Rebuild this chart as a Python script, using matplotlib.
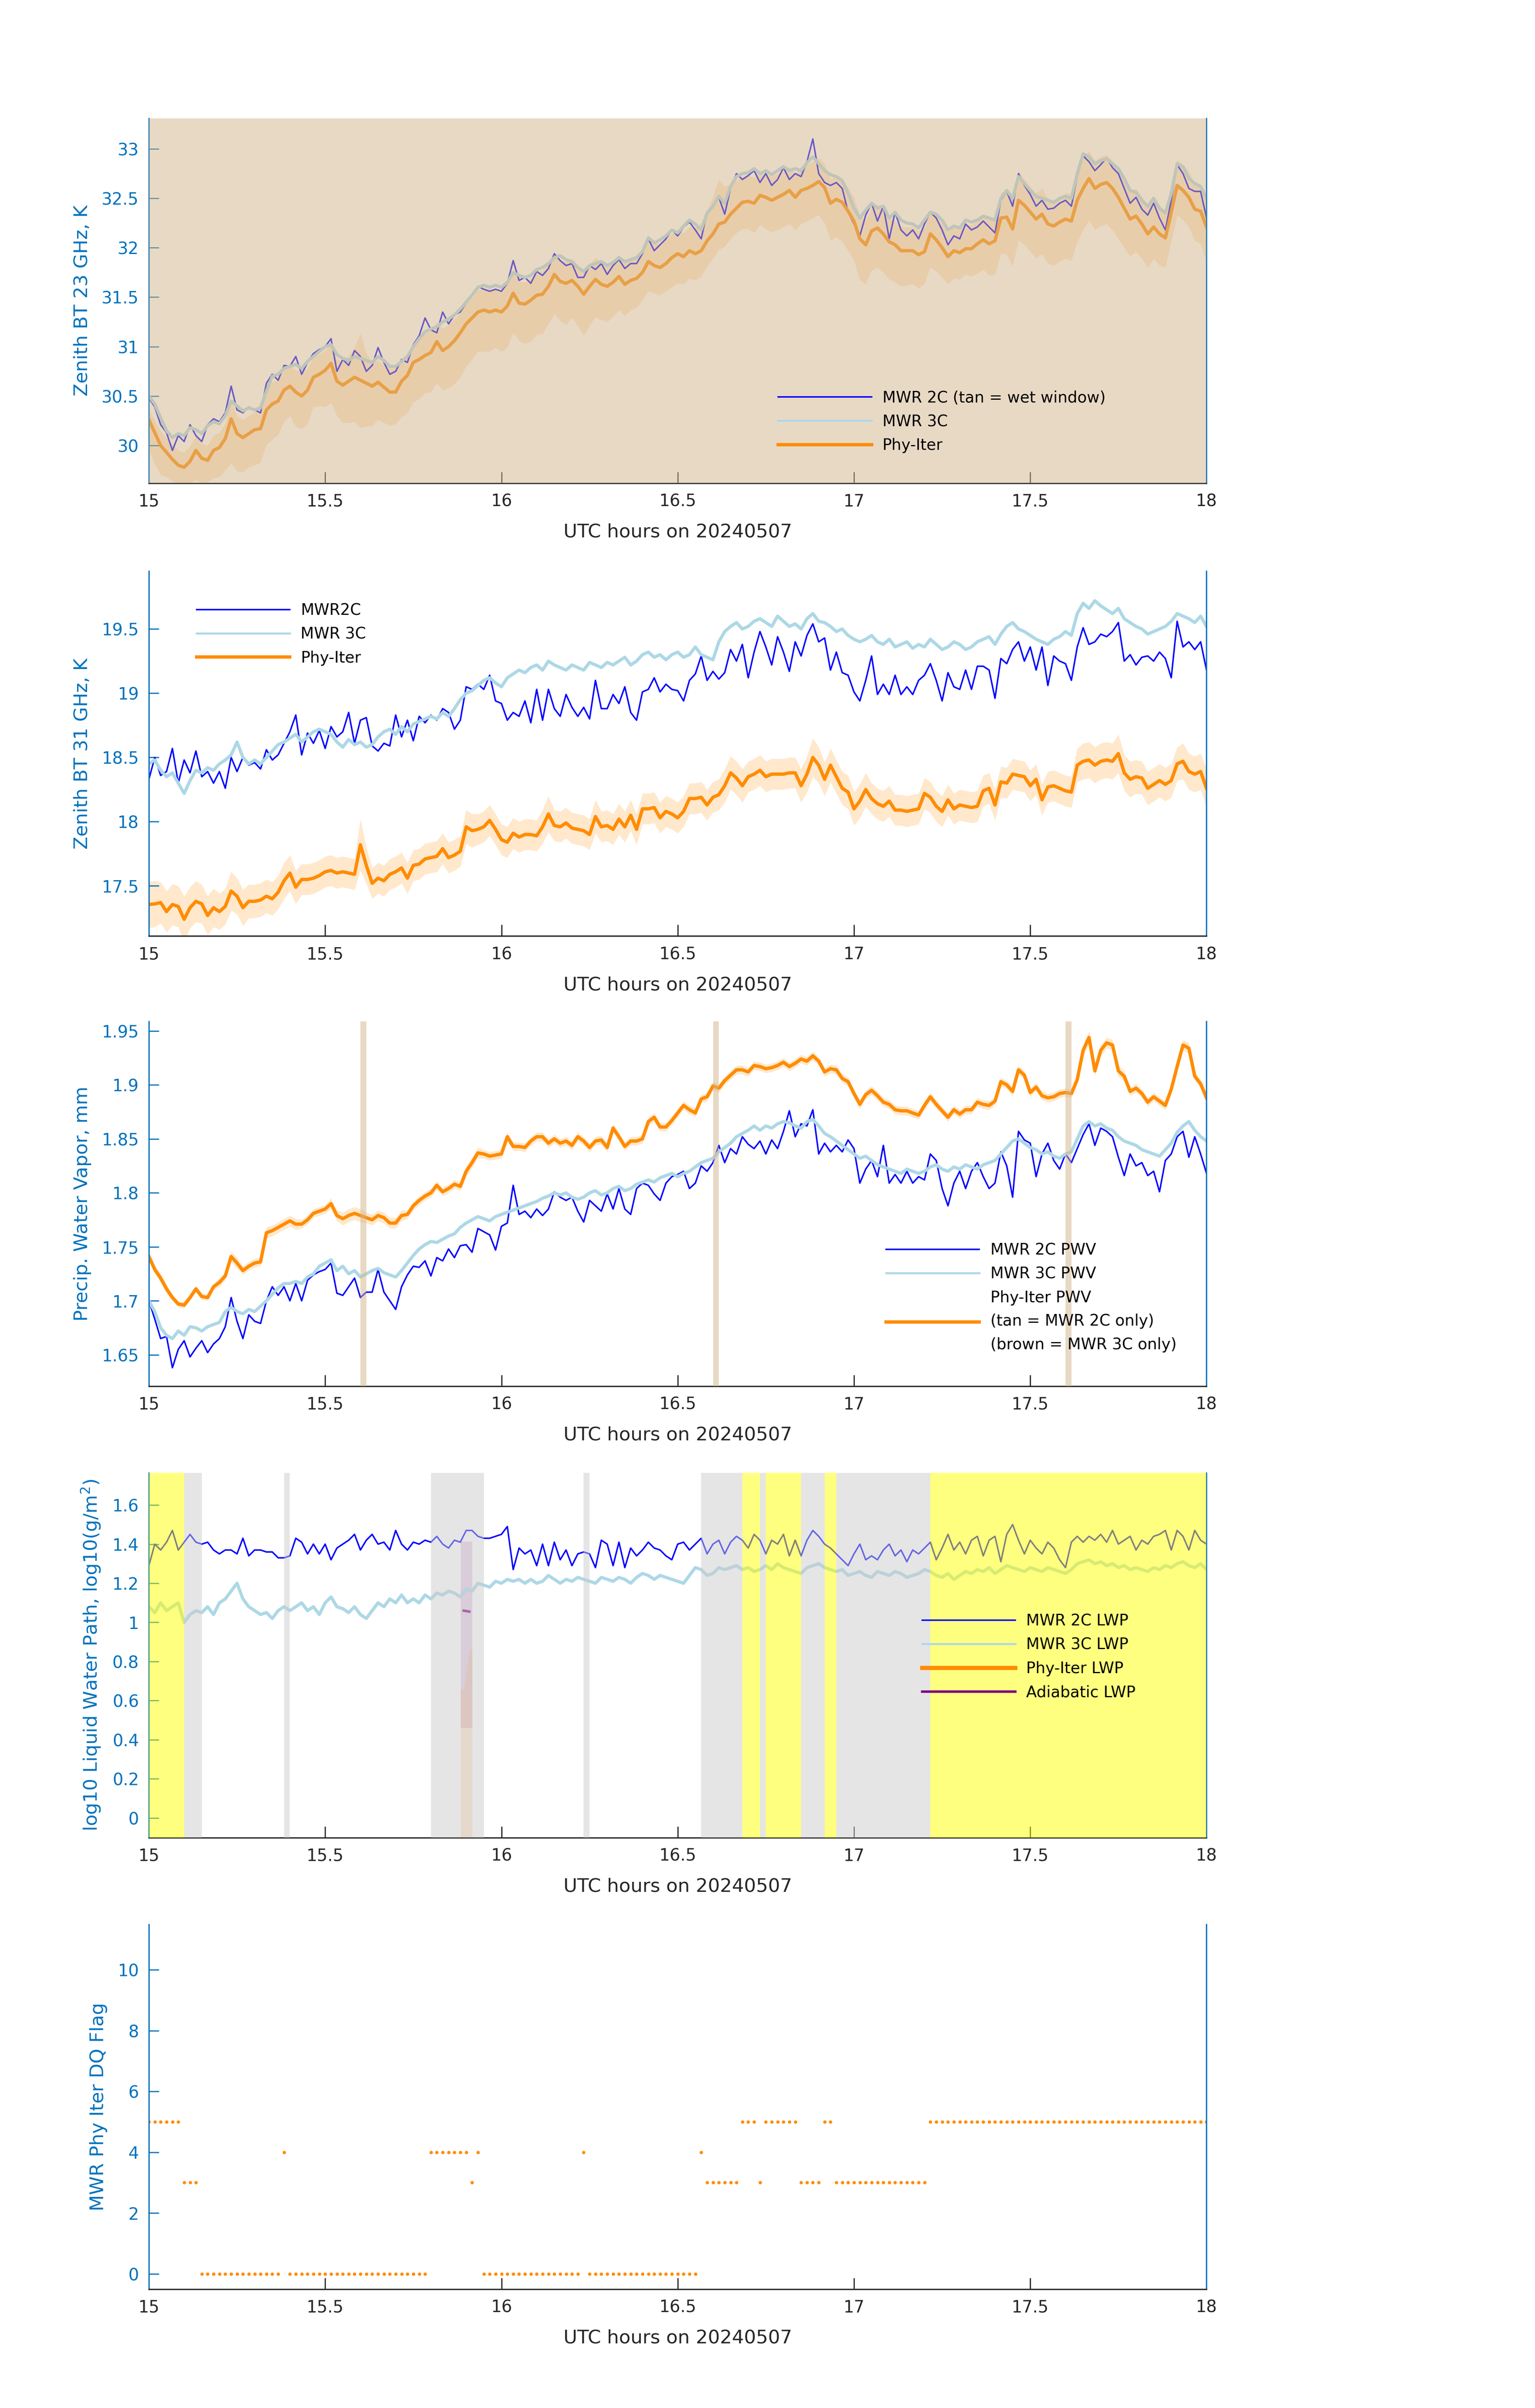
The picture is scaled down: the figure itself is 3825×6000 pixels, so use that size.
import numpy as np
import matplotlib
matplotlib.use("Agg")
import matplotlib.pyplot as plt
from matplotlib.lines import Line2D
from matplotlib.ticker import FuncFormatter

# ---------------- data (1-minute samples starting 15:00 UTC) ----------------
start_hour = 15.0
step_hour = 1.0 / 60.0

# Panel 1: 23 GHz zenith brightness temperature, K
bt23_mwr2c = [
    30.48, 30.39, 30.21, 30.13, 29.95, 30.10, 30.04, 30.21, 30.10, 30.04,
    30.21, 30.27, 30.24, 30.33, 30.60, 30.36, 30.33, 30.39, 30.36, 30.33,
    30.63, 30.72, 30.66, 30.81, 30.80, 30.90, 30.72, 30.84, 30.93, 30.97,
    31.00, 31.08, 30.75, 30.87, 30.81, 30.96, 30.90, 30.75, 30.81, 30.99,
    30.84, 30.72, 30.75, 30.87, 30.84, 31.02, 31.11, 31.29, 31.17, 31.14,
    31.35, 31.23, 31.32, 31.35, 31.44, 31.53, 31.61, 31.58, 31.56, 31.58,
    31.56, 31.64, 31.87, 31.67, 31.70, 31.64, 31.76, 31.72, 31.79, 31.94,
    31.87, 31.82, 31.84, 31.70, 31.70, 31.82, 31.78, 31.84, 31.73, 31.82,
    31.88, 31.79, 31.84, 31.84, 31.94, 32.09, 31.97, 32.03, 32.09, 32.18,
    32.12, 32.21, 32.26, 32.18, 32.09, 32.36, 32.42, 32.51, 32.34, 32.60,
    32.75, 32.69, 32.73, 32.78, 32.66, 32.75, 32.63, 32.69, 32.81, 32.69,
    32.75, 32.72, 32.87, 33.10, 32.75, 32.66, 32.63, 32.66, 32.60, 32.36,
    32.24, 32.12, 32.33, 32.45, 32.27, 32.42, 32.09, 32.36, 32.18, 32.12,
    32.18, 32.09, 32.24, 32.36, 32.30, 32.18, 32.03, 32.12, 32.09, 32.24,
    32.18, 32.21, 32.27, 32.21, 32.15, 32.48, 32.57, 32.42, 32.75, 32.63,
    32.54, 32.42, 32.48, 32.39, 32.40, 32.45, 32.48, 32.42, 32.72, 32.93,
    32.87, 32.78, 32.84, 32.91, 32.81, 32.75, 32.60, 32.45, 32.51, 32.39,
    32.33, 32.45, 32.30, 32.18, 32.48, 32.84, 32.75, 32.60, 32.57, 32.57,
    32.30]
bt23_mwr3c = [
    30.50, 30.42, 30.28, 30.15, 30.08, 30.12, 30.10, 30.18, 30.16, 30.12,
    30.20, 30.24, 30.22, 30.30, 30.45, 30.40, 30.35, 30.38, 30.36, 30.38,
    30.55, 30.70, 30.72, 30.78, 30.80, 30.82, 30.78, 30.85, 30.90, 30.95,
    31.00, 31.02, 30.92, 30.88, 30.86, 30.90, 30.88, 30.86, 30.84, 30.90,
    30.86, 30.80, 30.80, 30.85, 30.90, 31.00, 31.08, 31.15, 31.18, 31.20,
    31.25, 31.28, 31.32, 31.38, 31.45, 31.52, 31.60, 31.62, 31.60, 31.62,
    31.60, 31.65, 31.75, 31.72, 31.70, 31.72, 31.78, 31.80, 31.84, 31.90,
    31.92, 31.88, 31.86, 31.80, 31.76, 31.82, 31.84, 31.86, 31.82, 31.85,
    31.90, 31.86, 31.88, 31.90, 31.96, 32.10, 32.05, 32.08, 32.12, 32.18,
    32.15, 32.22, 32.28, 32.24, 32.18, 32.35, 32.42, 32.52, 32.45, 32.62,
    32.72, 32.75, 32.76, 32.80, 32.75, 32.78, 32.74, 32.78, 32.82, 32.78,
    32.80, 32.78, 32.86, 32.92, 32.85, 32.78, 32.74, 32.72, 32.68, 32.55,
    32.40, 32.30, 32.38, 32.45, 32.40, 32.42, 32.30, 32.36, 32.28, 32.25,
    32.24, 32.20, 32.28, 32.36, 32.34, 32.28, 32.18, 32.22, 32.20, 32.28,
    32.26, 32.28, 32.32, 32.30, 32.28, 32.50, 32.58, 32.50, 32.72, 32.65,
    32.58, 32.52, 32.50, 32.48, 32.46, 32.50, 32.52, 32.50, 32.75, 32.95,
    32.92, 32.85, 32.88, 32.90, 32.85, 32.80, 32.70, 32.58, 32.56, 32.48,
    32.42, 32.50, 32.40, 32.35, 32.55, 32.85, 32.82, 32.70, 32.65, 32.62,
    32.50]
bt23_phyiter = [
    30.26, 30.13, 30.00, 29.93, 29.86, 29.80, 29.78, 29.84, 29.95, 29.87,
    29.85, 29.95, 29.98, 30.07, 30.27, 30.12, 30.08, 30.12, 30.16, 30.17,
    30.36, 30.42, 30.45, 30.56, 30.60, 30.54, 30.50, 30.56, 30.69, 30.72,
    30.76, 30.83, 30.65, 30.61, 30.65, 30.69, 30.66, 30.63, 30.60, 30.64,
    30.59, 30.54, 30.54, 30.65, 30.71, 30.84, 30.87, 30.91, 30.94, 31.05,
    30.96, 31.00, 31.06, 31.14, 31.23, 31.29, 31.35, 31.37, 31.35, 31.37,
    31.35, 31.41, 31.54, 31.44, 31.43, 31.47, 31.52, 31.53, 31.61, 31.73,
    31.66, 31.64, 31.67, 31.61, 31.53, 31.61, 31.68, 31.63, 31.61, 31.65,
    31.71, 31.63, 31.67, 31.69, 31.75, 31.86, 31.82, 31.80, 31.84, 31.90,
    31.94, 31.91, 31.97, 31.94, 31.97, 32.07, 32.14, 32.24, 32.26, 32.34,
    32.40, 32.46, 32.47, 32.45, 32.53, 32.51, 32.48, 32.51, 32.54, 32.58,
    32.51, 32.58, 32.60, 32.63, 32.67, 32.61, 32.45, 32.49, 32.46, 32.37,
    32.27, 32.09, 32.03, 32.17, 32.20, 32.14, 32.06, 32.03, 31.97, 31.97,
    31.97, 31.93, 31.96, 32.14, 32.08, 32.00, 31.91, 31.97, 31.95, 31.99,
    31.99, 32.04, 32.08, 32.04, 32.07, 32.30, 32.31, 32.19, 32.48, 32.43,
    32.36, 32.29, 32.34, 32.24, 32.22, 32.26, 32.29, 32.27, 32.48, 32.60,
    32.70, 32.60, 32.64, 32.66, 32.60, 32.51, 32.40, 32.29, 32.32, 32.24,
    32.14, 32.21, 32.14, 32.10, 32.36, 32.63, 32.58, 32.51, 32.39, 32.37,
    32.21]
bt23_phyiter_err_low = [
    0.30, 0.32, 0.30, 0.25, 0.22, 0.20, 0.20, 0.22, 0.30, 0.25,
    0.22, 0.28, 0.30, 0.32, 0.45, 0.38, 0.35, 0.34, 0.36, 0.34,
    0.35, 0.36, 0.34, 0.32, 0.30, 0.35, 0.33, 0.34, 0.30, 0.32,
    0.37, 0.40, 0.35, 0.38, 0.42, 0.45, 0.48, 0.44, 0.40, 0.38,
    0.36, 0.34, 0.32, 0.36, 0.38, 0.40, 0.40, 0.38, 0.40, 0.42,
    0.40, 0.42, 0.44, 0.45, 0.43, 0.42, 0.40, 0.42, 0.40, 0.38,
    0.40, 0.42, 0.40, 0.38, 0.40, 0.42, 0.40, 0.40, 0.38, 0.40,
    0.40, 0.42, 0.38, 0.40, 0.42, 0.40, 0.38, 0.36, 0.36, 0.35,
    0.34, 0.32, 0.30, 0.30, 0.28, 0.30, 0.28, 0.28, 0.28, 0.30,
    0.30, 0.28, 0.28, 0.27, 0.26, 0.26, 0.25, 0.26, 0.25, 0.25,
    0.25, 0.27, 0.28, 0.30, 0.30, 0.32, 0.32, 0.33, 0.33, 0.34,
    0.33, 0.34, 0.33, 0.33, 0.34, 0.36, 0.38, 0.38, 0.40, 0.40,
    0.40, 0.42, 0.40, 0.40, 0.40, 0.39, 0.38, 0.38, 0.36, 0.35,
    0.34, 0.34, 0.32, 0.34, 0.32, 0.30, 0.28, 0.28, 0.27, 0.26,
    0.28, 0.30, 0.30, 0.32, 0.34, 0.36, 0.38, 0.38, 0.40, 0.40,
    0.40, 0.40, 0.40, 0.40, 0.40, 0.40, 0.40, 0.40, 0.42, 0.42,
    0.42, 0.42, 0.42, 0.42, 0.42, 0.42, 0.40, 0.38, 0.36, 0.35,
    0.34, 0.32, 0.32, 0.30, 0.30, 0.30, 0.30, 0.30, 0.32, 0.33,
    0.35]
bt23_phyiter_err_high = [
    0.10, 0.12, 0.15, 0.15, 0.15, 0.15, 0.15, 0.15, 0.15, 0.15,
    0.15, 0.15, 0.15, 0.15, 0.20, 0.18, 0.18, 0.18, 0.18, 0.18,
    0.20, 0.22, 0.22, 0.20, 0.20, 0.22, 0.24, 0.22, 0.20, 0.20,
    0.20, 0.20, 0.22, 0.24, 0.26, 0.30, 0.48, 0.30, 0.25, 0.22,
    0.22, 0.24, 0.24, 0.22, 0.20, 0.20, 0.20, 0.22, 0.22, 0.20,
    0.22, 0.22, 0.22, 0.20, 0.20, 0.20, 0.22, 0.22, 0.22, 0.20,
    0.20, 0.22, 0.24, 0.22, 0.22, 0.22, 0.22, 0.24, 0.22, 0.22,
    0.22, 0.22, 0.22, 0.22, 0.22, 0.22, 0.22, 0.22, 0.22, 0.22,
    0.22, 0.22, 0.22, 0.22, 0.24, 0.24, 0.24, 0.24, 0.24, 0.24,
    0.24, 0.24, 0.24, 0.26, 0.28, 0.30, 0.38, 0.45, 0.36, 0.30,
    0.28, 0.26, 0.26, 0.26, 0.24, 0.24, 0.24, 0.24, 0.24, 0.24,
    0.24, 0.24, 0.24, 0.24, 0.24, 0.24, 0.24, 0.24, 0.24, 0.24,
    0.24, 0.24, 0.24, 0.24, 0.24, 0.24, 0.24, 0.24, 0.24, 0.24,
    0.24, 0.24, 0.24, 0.24, 0.24, 0.24, 0.24, 0.24, 0.24, 0.24,
    0.24, 0.24, 0.24, 0.24, 0.24, 0.26, 0.26, 0.30, 0.30, 0.26,
    0.26, 0.26, 0.26, 0.26, 0.26, 0.26, 0.26, 0.28, 0.30, 0.30,
    0.28, 0.28, 0.28, 0.28, 0.28, 0.28, 0.28, 0.28, 0.28, 0.28,
    0.28, 0.28, 0.28, 0.28, 0.28, 0.26, 0.26, 0.26, 0.26, 0.26,
    0.26]

# Panel 2: 31 GHz zenith brightness temperature, K
bt31_mwr2c = [
    18.33, 18.50, 18.36, 18.39, 18.57, 18.30, 18.48, 18.38, 18.55, 18.35,
    18.39, 18.30, 18.39, 18.26, 18.50, 18.39, 18.50, 18.44, 18.46, 18.41,
    18.56, 18.48, 18.52, 18.61, 18.70, 18.83, 18.52, 18.69, 18.61, 18.71,
    18.57, 18.74, 18.66, 18.70, 18.85, 18.61, 18.79, 18.81, 18.59, 18.55,
    18.61, 18.59, 18.83, 18.66, 18.79, 18.63, 18.82, 18.77, 18.83, 18.79,
    18.88, 18.85, 18.72, 18.79, 19.05, 19.03, 19.07, 19.03, 19.14, 18.94,
    18.92, 18.79, 18.85, 18.82, 18.94, 18.77, 19.03, 18.79, 19.03, 18.88,
    18.82, 18.99, 18.89, 18.82, 18.89, 18.80, 19.10, 18.88, 18.88, 18.99,
    18.92, 19.05, 18.85, 18.79, 19.01, 19.03, 19.12, 19.01, 19.07, 19.03,
    19.02, 18.94, 19.10, 19.15, 19.29, 19.10, 19.17, 19.11, 19.16, 19.34,
    19.25, 19.38, 19.12, 19.32, 19.48, 19.36, 19.22, 19.44, 19.32, 19.17,
    19.40, 19.29, 19.45, 19.54, 19.40, 19.43, 19.18, 19.32, 19.16, 19.14,
    19.01, 18.94, 19.10, 19.29, 18.99, 19.07, 18.99, 19.14, 18.99, 19.05,
    18.99, 19.10, 19.14, 19.23, 19.10, 18.94, 19.16, 19.05, 19.03, 19.18,
    19.03, 19.21, 19.21, 19.18, 18.96, 19.27, 19.23, 19.34, 19.40, 19.25,
    19.36, 19.18, 19.36, 19.06, 19.29, 19.25, 19.23, 19.10, 19.36, 19.51,
    19.38, 19.40, 19.46, 19.44, 19.48, 19.55, 19.25, 19.30, 19.22, 19.28,
    19.29, 19.25, 19.32, 19.27, 19.12, 19.56, 19.36, 19.40, 19.34, 19.40,
    19.18]
bt31_mwr3c = [
    18.45, 18.48, 18.40, 18.35, 18.38, 18.30, 18.22, 18.32, 18.40, 18.38,
    18.42, 18.40, 18.45, 18.48, 18.52, 18.62, 18.50, 18.45, 18.48, 18.45,
    18.50, 18.55, 18.60, 18.62, 18.65, 18.68, 18.62, 18.66, 18.70, 18.72,
    18.70, 18.68, 18.62, 18.58, 18.64, 18.60, 18.62, 18.58, 18.60, 18.66,
    18.70, 18.72, 18.68, 18.74, 18.70, 18.76, 18.78, 18.80, 18.82, 18.80,
    18.85, 18.82, 18.88, 18.95, 19.00, 19.02, 19.06, 19.10, 19.12, 19.08,
    19.05, 19.12, 19.15, 19.18, 19.16, 19.20, 19.22, 19.18, 19.25, 19.22,
    19.20, 19.18, 19.22, 19.20, 19.18, 19.24, 19.22, 19.20, 19.24, 19.22,
    19.25, 19.28, 19.22, 19.25, 19.30, 19.32, 19.28, 19.30, 19.26, 19.30,
    19.32, 19.28, 19.30, 19.36, 19.30, 19.28, 19.26, 19.40, 19.48, 19.52,
    19.55, 19.50, 19.52, 19.56, 19.58, 19.55, 19.52, 19.60, 19.56, 19.52,
    19.54, 19.50, 19.58, 19.62, 19.56, 19.55, 19.52, 19.48, 19.50, 19.45,
    19.42, 19.40, 19.42, 19.45, 19.40, 19.38, 19.42, 19.36, 19.38, 19.40,
    19.35, 19.38, 19.36, 19.42, 19.38, 19.34, 19.36, 19.40, 19.38, 19.34,
    19.36, 19.40, 19.42, 19.44, 19.38, 19.46, 19.52, 19.55, 19.50, 19.48,
    19.45, 19.42, 19.40, 19.38, 19.42, 19.44, 19.48, 19.45, 19.62, 19.70,
    19.66, 19.72, 19.68, 19.65, 19.62, 19.66, 19.58, 19.55, 19.52, 19.50,
    19.46, 19.48, 19.50, 19.52, 19.56, 19.62, 19.60, 19.58, 19.55, 19.60,
    19.52]
bt31_phyiter = [
    17.355, 17.36, 17.37, 17.30, 17.355, 17.34, 17.24, 17.33, 17.38, 17.36,
    17.27, 17.33, 17.30, 17.34, 17.46, 17.42, 17.33, 17.38, 17.38, 17.39,
    17.42, 17.40, 17.45, 17.54, 17.60, 17.49, 17.55, 17.55, 17.56, 17.58,
    17.61, 17.62, 17.60, 17.61, 17.60, 17.59, 17.82, 17.66, 17.52, 17.56,
    17.54, 17.59, 17.61, 17.64, 17.56, 17.66, 17.67, 17.71, 17.72, 17.73,
    17.79, 17.72, 17.74, 17.77, 17.96, 17.93, 17.94, 17.96, 18.01, 17.94,
    17.86, 17.84, 17.91, 17.88, 17.90, 17.90, 17.89, 17.96, 18.06, 17.97,
    17.96, 17.99, 17.95, 17.94, 17.93, 17.90, 18.04, 17.96, 17.97, 17.94,
    18.02, 17.96, 18.05, 17.94, 18.10, 18.10, 18.11, 18.03, 18.08, 18.06,
    18.03, 18.08, 18.18, 18.18, 18.19, 18.13, 18.19, 18.21, 18.28, 18.38,
    18.34, 18.28, 18.35, 18.37, 18.40, 18.35, 18.37, 18.37, 18.37, 18.38,
    18.38, 18.28, 18.37, 18.50, 18.44, 18.33, 18.44, 18.35, 18.26, 18.23,
    18.10, 18.16, 18.25, 18.18, 18.14, 18.12, 18.16, 18.09, 18.09, 18.08,
    18.09, 18.10, 18.22, 18.19, 18.12, 18.08, 18.17, 18.10, 18.13, 18.12,
    18.11, 18.12, 18.24, 18.26, 18.13, 18.31, 18.30, 18.37, 18.36, 18.35,
    18.28, 18.33, 18.17, 18.27, 18.28, 18.26, 18.24, 18.23, 18.44, 18.47,
    18.48, 18.44, 18.47, 18.48, 18.47, 18.53, 18.38, 18.33, 18.35, 18.34,
    18.26, 18.29, 18.32, 18.29, 18.32, 18.45, 18.47, 18.39, 18.37, 18.39,
    18.26]
bt31_phyiter_err = [
    0.18, 0.18, 0.16, 0.16, 0.16, 0.16, 0.18, 0.16, 0.16, 0.15,
    0.15, 0.15, 0.14, 0.14, 0.15, 0.14, 0.14, 0.13, 0.13, 0.13,
    0.13, 0.13, 0.13, 0.14, 0.14, 0.13, 0.12, 0.12, 0.12, 0.12,
    0.12, 0.12, 0.12, 0.12, 0.12, 0.12, 0.20, 0.14, 0.12, 0.12,
    0.12, 0.12, 0.12, 0.12, 0.12, 0.12, 0.12, 0.12, 0.12, 0.12,
    0.12, 0.12, 0.12, 0.12, 0.13, 0.13, 0.12, 0.12, 0.12, 0.12,
    0.12, 0.12, 0.12, 0.12, 0.12, 0.12, 0.12, 0.13, 0.14, 0.12,
    0.12, 0.12, 0.12, 0.12, 0.12, 0.12, 0.13, 0.12, 0.12, 0.12,
    0.12, 0.12, 0.12, 0.12, 0.12, 0.12, 0.12, 0.12, 0.12, 0.12,
    0.12, 0.12, 0.12, 0.12, 0.12, 0.12, 0.12, 0.12, 0.13, 0.13,
    0.13, 0.13, 0.12, 0.12, 0.12, 0.12, 0.12, 0.12, 0.12, 0.12,
    0.12, 0.13, 0.14, 0.15, 0.14, 0.13, 0.13, 0.13, 0.13, 0.13,
    0.13, 0.13, 0.13, 0.12, 0.12, 0.12, 0.12, 0.12, 0.12, 0.12,
    0.12, 0.12, 0.12, 0.12, 0.12, 0.12, 0.12, 0.12, 0.12, 0.12,
    0.12, 0.12, 0.12, 0.12, 0.12, 0.12, 0.12, 0.12, 0.12, 0.12,
    0.12, 0.12, 0.12, 0.12, 0.12, 0.12, 0.12, 0.12, 0.13, 0.14,
    0.14, 0.14, 0.14, 0.14, 0.14, 0.15, 0.14, 0.14, 0.13, 0.13,
    0.13, 0.13, 0.13, 0.13, 0.13, 0.13, 0.14, 0.14, 0.14, 0.14,
    0.15]

# Panel 3: precipitable water vapour, mm
pwv_mwr2c = [
    1.700, 1.683, 1.665, 1.667, 1.638, 1.655, 1.663, 1.648, 1.656, 1.663,
    1.652, 1.660, 1.665, 1.676, 1.703, 1.681, 1.665, 1.687, 1.681, 1.679,
    1.700, 1.713, 1.705, 1.713, 1.700, 1.716, 1.700, 1.719, 1.724, 1.727,
    1.729, 1.735, 1.707, 1.705, 1.713, 1.721, 1.703, 1.708, 1.708, 1.729,
    1.708, 1.700, 1.692, 1.713, 1.724, 1.732, 1.731, 1.737, 1.723, 1.740,
    1.737, 1.748, 1.740, 1.751, 1.752, 1.745, 1.767, 1.764, 1.761, 1.747,
    1.769, 1.772, 1.807, 1.780, 1.783, 1.777, 1.785, 1.779, 1.785, 1.801,
    1.796, 1.793, 1.796, 1.783, 1.773, 1.793, 1.788, 1.783, 1.799, 1.785,
    1.804, 1.785, 1.780, 1.804, 1.809, 1.807, 1.799, 1.793, 1.809, 1.815,
    1.817, 1.820, 1.804, 1.809, 1.825, 1.820, 1.828, 1.844, 1.828, 1.841,
    1.836, 1.852, 1.845, 1.841, 1.848, 1.836, 1.849, 1.841, 1.857, 1.876,
    1.852, 1.864, 1.862, 1.877, 1.836, 1.846, 1.838, 1.844, 1.838, 1.849,
    1.841, 1.809, 1.822, 1.830, 1.815, 1.844, 1.809, 1.817, 1.809, 1.820,
    1.809, 1.815, 1.812, 1.836, 1.830, 1.804, 1.788, 1.809, 1.820, 1.804,
    1.820, 1.828, 1.815, 1.804, 1.809, 1.838, 1.825, 1.796, 1.857, 1.849,
    1.846, 1.815, 1.836, 1.846, 1.830, 1.822, 1.836, 1.828, 1.841, 1.854,
    1.864, 1.844, 1.860, 1.857, 1.852, 1.833, 1.816, 1.836, 1.825, 1.828,
    1.816, 1.820, 1.801, 1.830, 1.836, 1.852, 1.857, 1.833, 1.852, 1.836,
    1.818]
pwv_mwr3c = [
    1.700, 1.690, 1.675, 1.668, 1.665, 1.672, 1.668, 1.676, 1.675, 1.672,
    1.676, 1.678, 1.680, 1.690, 1.694, 1.690, 1.688, 1.692, 1.690, 1.695,
    1.700, 1.706, 1.712, 1.716, 1.716, 1.718, 1.716, 1.722, 1.725, 1.732,
    1.735, 1.738, 1.728, 1.732, 1.725, 1.728, 1.722, 1.725, 1.728, 1.730,
    1.726, 1.724, 1.722, 1.728, 1.735, 1.742, 1.748, 1.752, 1.755, 1.754,
    1.757, 1.760, 1.762, 1.768, 1.772, 1.775, 1.778, 1.776, 1.774, 1.778,
    1.780, 1.782, 1.784, 1.786, 1.788, 1.790, 1.792, 1.795, 1.797, 1.800,
    1.798, 1.800, 1.796, 1.794, 1.796, 1.800, 1.802, 1.798, 1.800, 1.804,
    1.806, 1.802, 1.804, 1.808, 1.810, 1.812, 1.810, 1.814, 1.816, 1.818,
    1.815, 1.818, 1.820, 1.824, 1.828, 1.830, 1.832, 1.838, 1.842, 1.846,
    1.852, 1.855, 1.858, 1.862, 1.858, 1.862, 1.860, 1.864, 1.866, 1.865,
    1.862, 1.860, 1.866, 1.868, 1.862, 1.855, 1.852, 1.848, 1.844, 1.840,
    1.836, 1.832, 1.834, 1.830, 1.826, 1.824, 1.822, 1.820, 1.818, 1.822,
    1.820, 1.818, 1.820, 1.824, 1.826, 1.822, 1.820, 1.824, 1.822, 1.826,
    1.824, 1.822, 1.826, 1.828, 1.830, 1.836, 1.842, 1.848, 1.850, 1.846,
    1.842, 1.840, 1.836, 1.838, 1.834, 1.832, 1.836, 1.838, 1.850, 1.862,
    1.866, 1.862, 1.864, 1.860, 1.858, 1.852, 1.848, 1.846, 1.844, 1.840,
    1.838, 1.836, 1.834, 1.840, 1.846, 1.856, 1.862, 1.866, 1.858, 1.852,
    1.848]
pwv_phyiter = [
    1.741, 1.729, 1.721, 1.711, 1.703, 1.697, 1.696, 1.703, 1.711, 1.704,
    1.703, 1.713, 1.717, 1.723, 1.741, 1.735, 1.728, 1.732, 1.735, 1.736,
    1.763, 1.765, 1.768, 1.771, 1.774, 1.771, 1.771, 1.775, 1.781, 1.783,
    1.785, 1.790, 1.779, 1.776, 1.779, 1.781, 1.779, 1.777, 1.775, 1.779,
    1.777, 1.772, 1.772, 1.779, 1.780, 1.788, 1.793, 1.797, 1.800, 1.807,
    1.801, 1.804, 1.808, 1.806, 1.820, 1.828, 1.837, 1.836, 1.834, 1.835,
    1.836, 1.852, 1.843, 1.843, 1.842, 1.848, 1.852, 1.852, 1.846, 1.850,
    1.846, 1.848, 1.844, 1.852, 1.848, 1.842, 1.848, 1.849, 1.842, 1.860,
    1.852, 1.843, 1.848, 1.848, 1.850, 1.866, 1.870, 1.861, 1.861, 1.867,
    1.874, 1.881, 1.877, 1.874, 1.887, 1.889, 1.899, 1.897, 1.904, 1.909,
    1.914, 1.914, 1.912, 1.918, 1.917, 1.915, 1.916, 1.918, 1.921, 1.917,
    1.920, 1.924, 1.922, 1.927, 1.922, 1.912, 1.915, 1.914, 1.906, 1.903,
    1.892, 1.882, 1.891, 1.895, 1.890, 1.884, 1.882, 1.877, 1.876, 1.876,
    1.874, 1.872, 1.881, 1.889, 1.882, 1.876, 1.870, 1.877, 1.873, 1.877,
    1.877, 1.884, 1.882, 1.881, 1.885, 1.903, 1.900, 1.894, 1.914, 1.909,
    1.893, 1.898, 1.890, 1.888, 1.889, 1.892, 1.893, 1.892, 1.905, 1.932,
    1.944, 1.913, 1.932, 1.939, 1.937, 1.913, 1.908, 1.894, 1.897, 1.892,
    1.884, 1.889, 1.885, 1.881, 1.896, 1.917, 1.937, 1.934, 1.908, 1.901,
    1.888]
pwv_phyiter_err = [
    0.004, 0.004, 0.004, 0.004, 0.003, 0.003, 0.003, 0.003, 0.003, 0.003,
    0.003, 0.003, 0.004, 0.004, 0.005, 0.005, 0.004, 0.004, 0.004, 0.004,
    0.005, 0.005, 0.005, 0.005, 0.005, 0.005, 0.004, 0.004, 0.004, 0.004,
    0.004, 0.005, 0.005, 0.006, 0.006, 0.006, 0.006, 0.005, 0.005, 0.005,
    0.005, 0.005, 0.005, 0.005, 0.004, 0.004, 0.004, 0.004, 0.004, 0.004,
    0.004, 0.004, 0.004, 0.004, 0.005, 0.005, 0.005, 0.004, 0.004, 0.004,
    0.004, 0.004, 0.004, 0.004, 0.004, 0.004, 0.004, 0.004, 0.004, 0.004,
    0.004, 0.004, 0.004, 0.004, 0.004, 0.004, 0.004, 0.004, 0.004, 0.004,
    0.004, 0.004, 0.004, 0.004, 0.004, 0.004, 0.004, 0.004, 0.004, 0.004,
    0.004, 0.004, 0.004, 0.004, 0.004, 0.004, 0.004, 0.004, 0.004, 0.004,
    0.004, 0.004, 0.004, 0.004, 0.004, 0.004, 0.004, 0.004, 0.004, 0.004,
    0.004, 0.004, 0.004, 0.004, 0.004, 0.004, 0.004, 0.004, 0.004, 0.004,
    0.004, 0.004, 0.004, 0.004, 0.004, 0.004, 0.004, 0.004, 0.004, 0.004,
    0.004, 0.004, 0.004, 0.004, 0.004, 0.004, 0.004, 0.004, 0.004, 0.004,
    0.004, 0.004, 0.004, 0.004, 0.004, 0.004, 0.004, 0.004, 0.004, 0.004,
    0.004, 0.004, 0.004, 0.004, 0.004, 0.004, 0.004, 0.004, 0.005, 0.005,
    0.006, 0.005, 0.005, 0.005, 0.005, 0.005, 0.005, 0.004, 0.004, 0.004,
    0.004, 0.004, 0.004, 0.004, 0.004, 0.005, 0.005, 0.005, 0.004, 0.004,
    0.004]
pwv_mwr2c_only_minutes = [36, 96, 156]

# Panel 4: log10 liquid water path
lwp_mwr2c = [
    1.29, 1.40, 1.37, 1.41, 1.47, 1.37, 1.41, 1.45, 1.41, 1.40,
    1.41, 1.37, 1.35, 1.37, 1.37, 1.35, 1.43, 1.34, 1.37, 1.37,
    1.36, 1.36, 1.33, 1.33, 1.34, 1.43, 1.41, 1.35, 1.40, 1.35,
    1.40, 1.32, 1.38, 1.40, 1.42, 1.45, 1.37, 1.42, 1.45, 1.40,
    1.41, 1.37, 1.47, 1.40, 1.37, 1.41, 1.40, 1.42, 1.41, 1.44,
    1.40, 1.38, 1.42, 1.41, 1.47, 1.47, 1.44, 1.43, 1.43, 1.44,
    1.45, 1.49, 1.27, 1.38, 1.35, 1.37, 1.29, 1.40, 1.29, 1.41,
    1.32, 1.37, 1.29, 1.35, 1.36, 1.35, 1.28, 1.42, 1.40, 1.29,
    1.41, 1.28, 1.38, 1.34, 1.37, 1.41, 1.38, 1.37, 1.34, 1.32,
    1.40, 1.41, 1.37, 1.40, 1.43, 1.35, 1.40, 1.42, 1.35, 1.41,
    1.44, 1.42, 1.38, 1.45, 1.42, 1.35, 1.42, 1.40, 1.45, 1.34,
    1.42, 1.34, 1.42, 1.47, 1.44, 1.40, 1.38, 1.35, 1.32, 1.29,
    1.35, 1.40, 1.32, 1.34, 1.32, 1.37, 1.40, 1.34, 1.37, 1.31,
    1.37, 1.35, 1.38, 1.41, 1.32, 1.38, 1.45, 1.37, 1.41, 1.35,
    1.42, 1.44, 1.34, 1.42, 1.44, 1.31, 1.45, 1.50, 1.42, 1.35,
    1.42, 1.38, 1.35, 1.41, 1.38, 1.32, 1.28, 1.41, 1.44, 1.41,
    1.44, 1.42, 1.45, 1.41, 1.47, 1.40, 1.42, 1.44, 1.37, 1.42,
    1.40, 1.44, 1.45, 1.47, 1.37, 1.47, 1.44, 1.37, 1.47, 1.42,
    1.40]
lwp_mwr3c = [
    1.08, 1.05, 1.10, 1.06, 1.08, 1.10, 1.00, 1.04, 1.06, 1.05,
    1.08, 1.04, 1.10, 1.12, 1.16, 1.20, 1.12, 1.08, 1.06, 1.04,
    1.05, 1.02, 1.06, 1.08, 1.06, 1.08, 1.10, 1.06, 1.08, 1.04,
    1.10, 1.13, 1.08, 1.07, 1.05, 1.08, 1.04, 1.02, 1.06, 1.10,
    1.08, 1.12, 1.10, 1.14, 1.10, 1.12, 1.10, 1.14, 1.12, 1.15,
    1.14, 1.16, 1.15, 1.13, 1.17, 1.16, 1.20, 1.19, 1.18, 1.21,
    1.20, 1.22, 1.21, 1.22, 1.20, 1.22, 1.20, 1.21, 1.24, 1.22,
    1.20, 1.22, 1.21, 1.23, 1.22, 1.21, 1.20, 1.23, 1.22, 1.21,
    1.23, 1.22, 1.20, 1.23, 1.25, 1.24, 1.22, 1.24, 1.23, 1.22,
    1.21, 1.20, 1.24, 1.28, 1.27, 1.24, 1.25, 1.28, 1.27, 1.28,
    1.29, 1.27, 1.28, 1.26, 1.27, 1.29, 1.27, 1.30, 1.28, 1.27,
    1.26, 1.25, 1.28, 1.29, 1.30, 1.28, 1.27, 1.26, 1.27, 1.24,
    1.25, 1.26, 1.24, 1.23, 1.26, 1.25, 1.24, 1.26, 1.25, 1.23,
    1.24, 1.25, 1.27, 1.26, 1.24, 1.23, 1.25, 1.22, 1.24, 1.26,
    1.25, 1.27, 1.26, 1.28, 1.25, 1.27, 1.29, 1.28, 1.27, 1.26,
    1.28, 1.27, 1.26, 1.28, 1.27, 1.26, 1.25, 1.27, 1.30, 1.31,
    1.32, 1.30, 1.31, 1.29, 1.30, 1.28, 1.29, 1.27, 1.28, 1.27,
    1.26, 1.28, 1.27, 1.29, 1.28, 1.30, 1.31, 1.29, 1.28, 1.30,
    1.27]
adiabatic_lwp_time = [15.893, 15.909]
adiabatic_lwp = [1.06, 1.055]
lwp_band_time = [15.884, 15.893, 15.910, 15.917]
adiabatic_lwp_band_low = [0.46, 0.46, 0.46, 0.46]
adiabatic_lwp_band_high = [1.414, 1.414, 1.414, 1.414]
phyiter_lwp_band_low = [-0.2, -0.2, -0.2, -0.2]
phyiter_lwp_band_high = [0.654, 0.654, 0.862, 0.862]

# Panel 5: Phy-Iter data-quality flag, run-length encoded (value, minutes)
dq_flag_values = [5, 3, 0, 4, 0, 4, 3, 4, 0, 4, 0, 4, 3, 5, 3, 5, 3, 5, 3, 5]
dq_flag_counts = [6, 3, 14, 1, 24, 7, 1, 1, 17, 1, 19, 1, 6, 3, 1, 6, 4, 2, 16, 48]

x_ticks = [15, 15.5, 16, 16.5, 17, 17.5, 18]

# ---------------- styling ----------------
AX_BLUE = "#0072BD"
DARK = "#262626"
C_2C = "#0000FF"
C_3C = "#ADD8E6"
C_PHY = "#FF8C00"
C_TAN = "#D2B48C"
C_YEL = "#FFFF00"
C_GRAY = "#CCCCCC"
C_ADI = "#800080"

LW_2C = 0.9
LW_3C = 1.9
LW_PHY = 2.0

plt.rcParams["font.family"] = ["DejaVu Sans"]

fig = plt.figure(figsize=(12.75, 20), dpi=300)

left, width = 0.097, 0.689
tops = [0.0491, 0.2372, 0.4241, 0.6116, 0.7991]
height = 0.1515


def tvec(arr):
    return start_hour + np.arange(len(arr)) * step_hour


fmt = FuncFormatter(lambda v, p: "%g" % round(v, 6))


def make_ax(i, ylim, yticks, ylabel):
    ax = fig.add_axes([left, 1 - tops[i] - height, width, height])
    ax.set_xlim(15, 18)
    ax.set_ylim(*ylim)
    ax.set_xticks(x_ticks)
    ax.set_yticks(yticks)
    ax.xaxis.set_major_formatter(fmt)
    ax.yaxis.set_major_formatter(fmt)
    ax.spines["top"].set_visible(False)
    ax.spines["left"].set_color(AX_BLUE)
    ax.spines["right"].set_color(AX_BLUE)
    ax.spines["bottom"].set_color(DARK)
    for s in ax.spines.values():
        s.set_linewidth(0.8)
    ax.tick_params(axis="x", direction="in", length=6.7, width=0.7,
                   color=DARK, labelcolor=DARK, labelsize=10, pad=6)
    ax.tick_params(axis="y", direction="in", length=6.0, width=0.7,
                   color=AX_BLUE, labelcolor=AX_BLUE, labelsize=10, pad=6,
                   right=False)
    ax.set_xlabel("UTC hours on 20240507", fontsize=11.3, color=DARK, labelpad=8)
    ax.set_ylabel(ylabel, fontsize=11.3, color=AX_BLUE, labelpad=6)
    return ax


def add_legend(ax, handles, labels, x, y):
    leg = ax.legend(handles, labels, loc="upper left", bbox_to_anchor=(x, y),
                    frameon=False, fontsize=9.3, handlelength=6.0,
                    handletextpad=0.7, labelspacing=0.55, borderpad=0,
                    borderaxespad=0)
    leg.set_zorder(10)
    for ln in leg.get_lines():
        if ln.get_color() == C_3C:
            ln.set_linewidth(1.2)
    return leg


# ---- Panel 1 ----
ax1 = make_ax(0, (29.62, 33.31), [30, 30.5, 31, 31.5, 32, 32.5, 33],
              "Zenith BT 23 GHz, K")
t = tvec(bt23_phyiter)
ph = np.array(bt23_phyiter)
ax1.fill_between(t, ph - np.array(bt23_phyiter_err_low), ph + np.array(bt23_phyiter_err_high),
                 color=C_PHY, alpha=0.2, lw=0, zorder=1)
l2c, = ax1.plot(tvec(bt23_mwr2c), bt23_mwr2c, color=C_2C, lw=LW_2C, zorder=2)
l3c, = ax1.plot(tvec(bt23_mwr3c), bt23_mwr3c, color=C_3C, lw=LW_3C, zorder=2)
lph, = ax1.plot(t, ph, color=C_PHY, lw=LW_PHY, zorder=2)
ax1.axvspan(15, 18, color=C_TAN, alpha=0.5, lw=0, zorder=3)
add_legend(ax1, [l2c, l3c, lph], ["MWR 2C (tan = wet window)", "MWR 3C", "Phy-Iter"],
           0.595, 0.254)

# ---- Panel 2 ----
ax2 = make_ax(1, (17.11, 19.95), [17.5, 18, 18.5, 19, 19.5],
              "Zenith BT 31 GHz, K")
t = tvec(bt31_phyiter)
ph = np.array(bt31_phyiter)
er = np.array(bt31_phyiter_err)
ax2.fill_between(t, ph - er, ph + er, color=C_PHY, alpha=0.2, lw=0, zorder=1)
l2c, = ax2.plot(tvec(bt31_mwr2c), bt31_mwr2c, color=C_2C, lw=LW_2C, zorder=2)
l3c, = ax2.plot(tvec(bt31_mwr3c), bt31_mwr3c, color=C_3C, lw=LW_3C, zorder=2)
lph, = ax2.plot(t, ph, color=C_PHY, lw=LW_PHY, zorder=2)
add_legend(ax2, [l2c, l3c, lph], ["MWR2C", "MWR 3C", "Phy-Iter"], 0.045, 0.913)

# ---- Panel 3 ----
ax3 = make_ax(2, (1.621, 1.959), [1.65, 1.7, 1.75, 1.8, 1.85, 1.9, 1.95],
              "Precip. Water Vapor, mm")
t = tvec(pwv_phyiter)
ph = np.array(pwv_phyiter)
er = np.array(pwv_phyiter_err)
ax3.fill_between(t, ph - er, ph + er, color=C_PHY, alpha=0.2, lw=0, zorder=1)
l2c, = ax3.plot(tvec(pwv_mwr2c), pwv_mwr2c, color=C_2C, lw=LW_2C, zorder=2)
l3c, = ax3.plot(tvec(pwv_mwr3c), pwv_mwr3c, color=C_3C, lw=LW_3C, zorder=2)
lph, = ax3.plot(t, ph, color=C_PHY, lw=LW_PHY, zorder=2)
for m in pwv_mwr2c_only_minutes:
    t0 = start_hour + m * step_hour
    ax3.axvspan(t0, t0 + step_hour, color=C_TAN, alpha=0.5, lw=0, zorder=3)
leg3 = add_legend(ax3, [l2c, l3c, lph],
                  ["MWR 2C PWV", "MWR 3C PWV",
                   "Phy-Iter PWV\n(tan = MWR 2C only)\n(brown = MWR 3C only)"],
                  0.697, 0.393)
for txt in leg3.get_texts():
    txt.set_linespacing(1.68)

# ---- Panel 4 ----
ax4 = make_ax(3, (-0.1, 1.765), [0, 0.2, 0.4, 0.6, 0.8, 1, 1.2, 1.4, 1.6],
              "log10 Liquid Water Path, log10(g/m$^2$)")
l2c, = ax4.plot(tvec(lwp_mwr2c), lwp_mwr2c, color=C_2C, lw=LW_2C, zorder=2)
l3c, = ax4.plot(tvec(lwp_mwr3c), lwp_mwr3c, color=C_3C, lw=LW_3C, zorder=2)
ax4.fill_between(lwp_band_time, adiabatic_lwp_band_low, adiabatic_lwp_band_high,
                 color=C_ADI, alpha=0.19, lw=0, zorder=1)
ax4.fill_between(lwp_band_time, phyiter_lwp_band_low, phyiter_lwp_band_high,
                 color=C_PHY, alpha=0.2, lw=0, zorder=1)
ax4.plot(adiabatic_lwp_time, adiabatic_lwp, color=C_ADI, lw=1.5, zorder=2)
flags = np.repeat(dq_flag_values, dq_flag_counts)
# merge consecutive minutes with the same shading class
shade = np.where(flags == 5, 2, np.where((flags == 3) | (flags == 4), 1, 0))
i = 0
while i < len(shade):
    j = i
    while j + 1 < len(shade) and shade[j + 1] == shade[i]:
        j += 1
    if shade[i] > 0:
        c = C_YEL if shade[i] == 2 else C_GRAY
        ax4.axvspan(start_hour + i * step_hour, min(18, start_hour + (j + 1) * step_hour),
                    color=c, alpha=0.5, lw=0, zorder=3)
    i = j + 1
h_phy = Line2D([], [], color=C_PHY, lw=2.5)
h_adi = Line2D([], [], color=C_ADI, lw=1.5)
add_legend(ax4, [l2c, l3c, h_phy, h_adi],
           ["MWR 2C LWP", "MWR 3C LWP", "Phy-Iter LWP", "Adiabatic LWP"],
           0.731, 0.614)

# ---- Panel 5 ----
ax5 = make_ax(4, (-0.5, 11.5), [0, 2, 4, 6, 8, 10], "MWR Phy Iter DQ Flag")
ax5.plot(tvec(flags), flags, "o", ms=2.0, color=C_PHY, mec="none", zorder=2)

fig.savefig("out.png", dpi=300)
